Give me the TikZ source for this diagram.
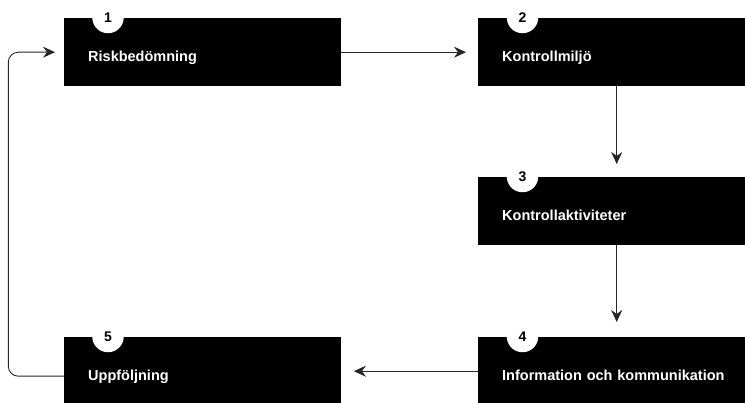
\documentclass[tikz,border=0pt]{standalone}
\usepackage{fontspec}
\setmainfont{Liberation Sans}
\usetikzlibrary{arrows.meta,calc}
\begin{document}
\begin{tikzpicture}[x=1pt,y=-1pt,
  stepbox/.style={fill=black, draw=none, anchor=north west, minimum width=277pt,
    minimum height=68pt, inner xsep=24pt, inner ysep=0pt, text width=229pt, align=left,
    text height=43.5pt, text depth=24.5pt, text=white,
    font=\fontsize{14.5}{17}\selectfont\bfseries},
  numcirc/.style={circle, fill=white, draw=none, minimum size=31.5pt, inner sep=0pt,
    font=\fontsize{14}{16}\selectfont\bfseries, text=black},
  arr/.style={draw=black!85, line width=0.9pt,
    -{Stealth[length=12pt, width=11pt, inset=4pt]}}
]
\clip (0,0) rectangle (745,403);
\fill[white] (0,0) rectangle (745,403);

\node[stepbox] (b1) at (64,18) {Riskbedömning};
\node[stepbox] (b2) at (478,18) {Kontrollmiljö};
\node[stepbox] (b3) at (478,177) {Kontrollaktiviteter};
\node[stepbox] (b4) at (478,337) {Information och kommunikation};
\node[stepbox] (b5) at (64,337) {Uppföljning};

\node[numcirc] (n1) at ($(b1.north west)+(44pt,0.5pt)$) {1};
\node[numcirc] (n2) at ($(b2.north west)+(44.5pt,0.5pt)$) {2};
\node[numcirc] (n3) at ($(b3.north west)+(44.5pt,0.5pt)$) {3};
\node[numcirc] (n4) at ($(b4.north west)+(44.5pt,0.5pt)$) {4};
\node[numcirc] (n5) at ($(b5.north west)+(44pt,0.5pt)$) {5};

\coordinate (loopx) at (8.3,0);

\draw[arr, shorten >=12pt] (b1.east) -- (b2.west);
\draw[arr, shorten >=13pt] (b2.south) -- (b2.south |- b3.north);
\draw[arr, shorten >=15pt] (b3.south) -- (b4.north);
\draw[arr, shorten >=12.5pt] (b4.west) -- (b5.east);
\draw[arr, rounded corners=10pt, shorten >=9pt] ([yshift=-5pt]b5.west) -| (loopx |- b1.west) -- (b1.west);
\end{tikzpicture}
\end{document}
